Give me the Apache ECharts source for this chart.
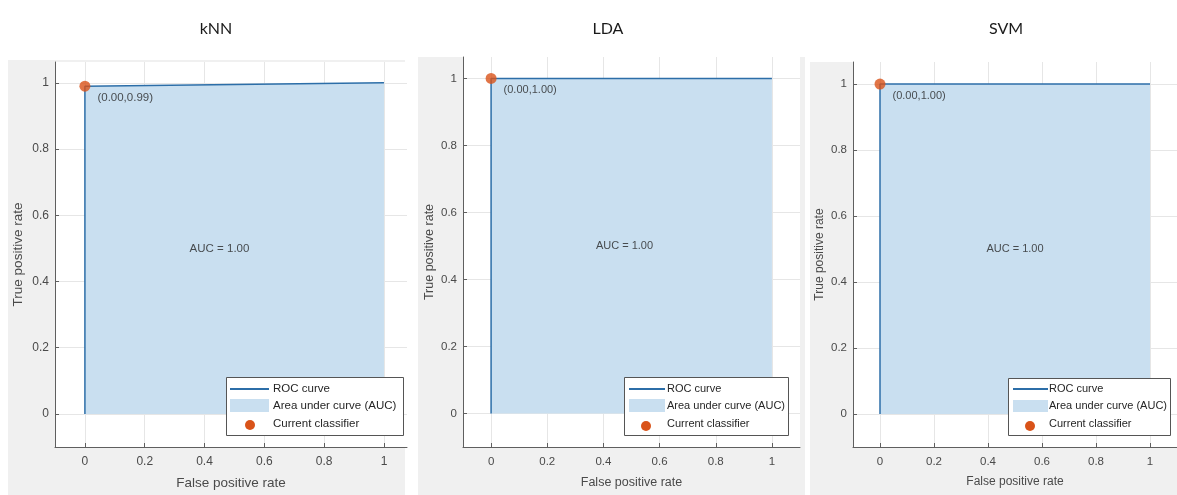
<!DOCTYPE html>
<html>
<head>
<meta charset="utf-8">
<script src="https://cdn.jsdelivr.net/npm/echarts@6/dist/echarts.min.js"></script>
<style>
html,body{margin:0;padding:0;background:#fff;}
#chart{width:1177px;height:495px;}
</style>
</head>
<body>
<div id="chart"></div>
<script>
// ---- data ----
const panelTitles = ['kNN', 'LDA', 'SVM'];
const xTicks = [0, 0.2, 0.4, 0.6, 0.8, 1];
const yTicks = [0, 0.2, 0.4, 0.6, 0.8, 1];
const rocKNN = [[0, 0], [0, 0.99], [1, 1]];
const rocLDA = [[0, 0], [0, 1], [1, 1]];
const rocSVM = [[0, 0], [0, 1], [1, 1]];
const currentClassifier = [[0, 0.99], [0, 1.00], [0, 1.00]];
const aucValues = [1.00, 1.00, 1.00];
const legendNames = ['ROC curve', 'Area under curve (AUC)', 'Current classifier'];
const axisNames = ['False positive rate', 'True positive rate'];
const rocData = [rocKNN, rocLDA, rocSVM];

// ---- layout (pixels) ----
const layout = [
  {grid:{left:55, top:62, width:352, height:385}, xMax:1.077, yMax:1.063, titleX:211,
   bg:{x:8, y:60, w:397, h:435}, tick:12, name:13.5, nameGapY:30, txt:11.5,
   aucX:0.45, leg:{x:226, y:377, w:177, h:58, lx:230, lw:39, ly:389, py:399, ph:13, dx:250, dy:425, tx:273, t1:389, t2:406, t3:424}},
  {grid:{left:463, top:57, width:337, height:390}, xMax:1.1, yMax:1.064, titleX:603,
   bg:{x:418, y:57, w:387, h:438}, tick:11.5, name:12.5, nameGapY:27, txt:11,
   aucX:0.475, leg:{x:624, y:377, w:164, h:58, lx:629, lw:36, ly:389, py:399, ph:13, dx:646, dy:426, tx:667, t1:389, t2:406, t3:424}},
  {grid:{left:853, top:62, width:326, height:385}, xMax:1.1, yMax:1.067, titleX:1001,
   bg:{x:810, y:62, w:367, h:433}, tick:11.5, name:12, nameGapY:27, txt:11,
   aucX:0.5, leg:{x:1008, y:378, w:162, h:57, lx:1013, lw:35, ly:389, py:400, ph:12, dx:1030, dy:426, tx:1049, t1:389, t2:406, t3:424}}
];

const FONT = '"Liberation Sans", Arial, sans-serif';
const AXIS_COLOR = '#5f5f5f';
const TEXT_COLOR = '#4a4a4a';
const LINE_COLOR = '#2c6ea8';
const AREA_COLOR = '#c9dff0';
const DOT_COLOR = '#d95319';

const grids = [], xAxes = [], yAxes = [], series = [], titles = [], graphics = [];

layout.forEach((L, i) => {
  grids.push(Object.assign({show:true, backgroundColor:'#ffffff', borderWidth:0, containLabel:false}, L.grid));
  titles.push({text: panelTitles[i], left: L.titleX, top: 16, textAlign:'center',
    textStyle:{fontFamily:'Lato, "Open Sans", sans-serif', fontSize:16, fontWeight:'normal', color:'#1a1a1a'}});
  const common = (ticks, fs) => ({
    axisLine:{show:true, onZero:false, lineStyle:{color:AXIS_COLOR, width:1}},
    axisTick:{show:true, inside:true, length:4, customValues:ticks, lineStyle:{color:AXIS_COLOR}},
    axisLabel:{customValues:ticks, color:TEXT_COLOR, fontFamily:FONT, fontSize:fs},
    splitLine:{show:true, lineStyle:{color:'#e6e6e6', width:1}}
  });
  const xa = common(xTicks, L.tick);
  xa.axisLabel.margin = 9;
  xAxes.push(Object.assign({type:'value', gridIndex:i, min:-0.1, max:L.xMax,
    name: axisNames[0], nameLocation:'middle', nameGap:29,
    nameTextStyle:{fontFamily:FONT, fontSize:L.name, color:TEXT_COLOR}}, xa));
  const ya = common(yTicks, L.tick);
  ya.axisLabel.margin = 6;
  yAxes.push(Object.assign({type:'value', gridIndex:i, min:-0.1, max:L.yMax,
    name: axisNames[1], nameLocation:'middle', nameGap:L.nameGapY,
    nameTextStyle:{fontFamily:FONT, fontSize:L.name, color:TEXT_COLOR}}, ya));

  series.push({
    type:'line', name: legendNames[0], xAxisIndex:i, yAxisIndex:i, data: rocData[i],
    symbol:'none', lineStyle:{color:LINE_COLOR, width:1.5},
    areaStyle:{color:AREA_COLOR, opacity:1, origin:'auto'}, z:2, silent:true
  });
  const pt = currentClassifier[i];
  series.push({
    type:'scatter', name: legendNames[2], xAxisIndex:i, yAxisIndex:i, data:[pt],
    symbolSize:11, itemStyle:{color:DOT_COLOR}, z:6, silent:true,
    label:{show:true, position:'right', offset:[2,12], color:'#262626', fontFamily:FONT, fontSize:L.txt,
      formatter: p => '(' + p.value[0].toFixed(2) + ',' + p.value[1].toFixed(2) + ')'}
  });
  series.push({
    type:'scatter', xAxisIndex:i, yAxisIndex:i, data:[[L.aucX, 0.5]],
    symbolSize:1, itemStyle:{color:'transparent'}, z:6, silent:true,
    label:{show:true, position:'inside', color:'#262626', fontFamily:FONT, fontSize:L.txt,
      formatter: () => 'AUC = ' + aucValues[i].toFixed(2)}
  });

  // figure background
  graphics.push({type:'rect', shape:{x:L.bg.x, y:L.bg.y, width:L.bg.w, height:L.bg.h},
    style:{fill:'#f0f0f0'}, z:-10, silent:true});
  // legend box
  const g = L.leg;
  const tf = L.txt + 'px ' + FONT;
  graphics.push(
    {type:'rect', z:100, silent:true, shape:{x:g.x+0.5, y:g.y+0.5, width:g.w, height:g.h}, style:{fill:'#ffffff', stroke:'#555555', lineWidth:1}},
    {type:'line', z:101, silent:true, shape:{x1:g.lx, y1:g.ly, x2:g.lx+g.lw, y2:g.ly}, style:{stroke:LINE_COLOR, lineWidth:2}},
    {type:'rect', z:101, silent:true, shape:{x:g.lx, y:g.py, width:g.lw, height:g.ph}, style:{fill:AREA_COLOR}},
    {type:'circle', z:101, silent:true, shape:{cx:g.dx, cy:g.dy, r:5}, style:{fill:DOT_COLOR}},
    {type:'text', z:101, silent:true, x:g.tx, y:g.t1, style:{text:legendNames[0], fill:'#262626', font:tf, verticalAlign:'middle'}},
    {type:'text', z:101, silent:true, x:g.tx, y:g.t2, style:{text:legendNames[1], fill:'#262626', font:tf, verticalAlign:'middle'}},
    {type:'text', z:101, silent:true, x:g.tx, y:g.t3, style:{text:legendNames[2], fill:'#262626', font:tf, verticalAlign:'middle'}}
  );
});

const chart = echarts.init(document.getElementById('chart'), null, {renderer:'canvas'});
chart.setOption({
  animation:false,
  backgroundColor:'#ffffff',
  title: titles,
  grid: grids,
  xAxis: xAxes,
  yAxis: yAxes,
  series: series,
  graphic: graphics
});
</script>
</body>
</html>
